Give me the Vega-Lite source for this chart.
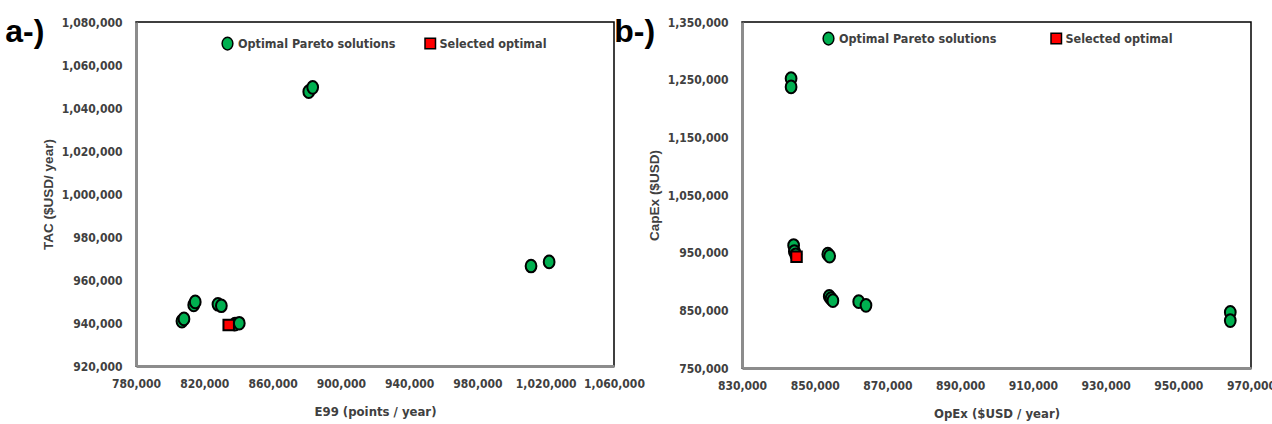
{
  "$schema": "https://vega.github.io/schema/vega-lite/v6.json",
  "background": "white",
  "padding": {"left": 4, "top": 15, "right": 0, "bottom": 0},
  "bounds": "flush",
  "spacing": 128,
  "config": {
    "view": {"stroke": "#000000", "strokeWidth": 1.5},
    "axis": {
      "grid": false,
      "ticks": false,
      "domainColor": "#8c8c8c",
      "domainWidth": 3,
      "labelFont": "DejaVu Sans Condensed, Roboto, sans-serif",
      "labelFontSize": 12,
      "labelFontWeight": "bold",
      "labelColor": "#404040",
      "labelOverlap": false,
      "labelFlush": false,
      "titleColor": "#404040"
    },
    "axisX": {"labelPadding": 12, "titlePadding": 16},
    "axisY": {"labelPadding": 14, "titlePadding": 6},
    "legend": {
      "labelFont": "DejaVu Sans Condensed, Roboto, sans-serif",
      "labelFontSize": 12.5,
      "labelFontWeight": "bold",
      "labelColor": "#404040",
      "labelLimit": 400,
      "symbolStrokeColor": "#000000",
      "symbolStrokeWidth": 1.5,
      "symbolSize": 70,
      "labelOffset": 3,
      "title": null
    },
    "title": {"font": "Liberation Sans", "fontSize": 32, "fontWeight": "bold", "color": "#000000", "anchor": "start", "frame": "bounds"}
  },
  "datasets": {
    "a": [
      {"E99": 806900, "TAC": 940900, "type": "Optimal Pareto solutions"},
      {"E99": 808100, "TAC": 941900, "type": "Optimal Pareto solutions"},
      {"E99": 813800, "TAC": 948400, "type": "Optimal Pareto solutions"},
      {"E99": 814700, "TAC": 949800, "type": "Optimal Pareto solutions"},
      {"E99": 828000, "TAC": 948700, "type": "Optimal Pareto solutions"},
      {"E99": 830000, "TAC": 948000, "type": "Optimal Pareto solutions"},
      {"E99": 838000, "TAC": 939500, "type": "Optimal Pareto solutions"},
      {"E99": 881200, "TAC": 1047600, "type": "Optimal Pareto solutions"},
      {"E99": 883500, "TAC": 1049600, "type": "Optimal Pareto solutions"},
      {"E99": 1011400, "TAC": 966500, "type": "Optimal Pareto solutions"},
      {"E99": 1022000, "TAC": 968400, "type": "Optimal Pareto solutions"},
      {"E99": 834300, "TAC": 939100, "type": "Selected optimal"},
      {"E99": 840500, "TAC": 939900, "type": "Optimal Pareto solutions"}
    ],
    "b": [
      {"OpEx": 843500, "CapEx": 1251900, "type": "Optimal Pareto solutions"},
      {"OpEx": 843500, "CapEx": 1237500, "type": "Optimal Pareto solutions"},
      {"OpEx": 844200, "CapEx": 962500, "type": "Optimal Pareto solutions"},
      {"OpEx": 844400, "CapEx": 952100, "type": "Optimal Pareto solutions"},
      {"OpEx": 844800, "CapEx": 946400, "type": "Optimal Pareto solutions"},
      {"OpEx": 853600, "CapEx": 947400, "type": "Optimal Pareto solutions"},
      {"OpEx": 854100, "CapEx": 944000, "type": "Optimal Pareto solutions"},
      {"OpEx": 854000, "CapEx": 874200, "type": "Optimal Pareto solutions"},
      {"OpEx": 854500, "CapEx": 870200, "type": "Optimal Pareto solutions"},
      {"OpEx": 855000, "CapEx": 866800, "type": "Optimal Pareto solutions"},
      {"OpEx": 862100, "CapEx": 865000, "type": "Optimal Pareto solutions"},
      {"OpEx": 864100, "CapEx": 858700, "type": "Optimal Pareto solutions"},
      {"OpEx": 964300, "CapEx": 846500, "type": "Optimal Pareto solutions"},
      {"OpEx": 964300, "CapEx": 832200, "type": "Optimal Pareto solutions"},
      {"OpEx": 845000, "CapEx": 942900, "type": "Selected optimal"}
    ]
  },
  "resolve": {"scale": {"color": "independent", "shape": "independent", "size": "independent"}, "legend": {"color": "independent", "shape": "independent"}},
  "hconcat": [
    {
      "width": 478,
      "height": 344,
      "title": {"text": "a-)", "dx": -36, "dy": 37},
      "data": {"name": "a"},
      "mark": {"type": "point", "filled": true, "stroke": "#000000", "strokeWidth": 2, "opacity": 1},
      "encoding": {
        "x": {"field": "E99", "type": "quantitative", "scale": {"domain": [780000, 1060000], "nice": false, "zero": false},
              "axis": {"values": [780000, 820000, 860000, 900000, 940000, 980000, 1020000, 1060000], "format": ",d", "title": "E99 (points / year)", "titleFont": "DejaVu Sans Condensed, Roboto, sans-serif", "titleFontSize": 13, "titleFontWeight": "bold"}},
        "y": {"field": "TAC", "type": "quantitative", "scale": {"domain": [920000, 1080000], "nice": false, "zero": false},
              "axis": {"values": [920000, 940000, 960000, 980000, 1000000, 1020000, 1040000, 1060000, 1080000], "format": ",d", "title": "TAC ($USD/ year)", "titleFont": "Liberation Sans", "titleFontSize": 13.5, "titleFontWeight": "bold"}},
        "color": {"field": "type", "type": "nominal", "scale": {"domain": ["Optimal Pareto solutions", "Selected optimal"], "range": ["#00B050", "#FF0000"]},
                  "legend": {"orient": "none", "direction": "horizontal", "legendX": 84, "legendY": 14, "columnPadding": 26}},
        "shape": {"field": "type", "type": "nominal", "scale": {"domain": ["Optimal Pareto solutions", "Selected optimal"], "range": ["M -0.85 0 A 0.85 1 0 1 0 0.85 0 A 0.85 1 0 1 0 -0.85 0 Z", "square"]}},
        "size": {"field": "type", "type": "nominal", "scale": {"domain": ["Optimal Pareto solutions", "Selected optimal"], "range": [160, 110]}, "legend": null}
      }
    },
    {
      "width": 509,
      "height": 346,
      "title": {"text": "b-)", "dx": -33, "dy": 37},
      "data": {"name": "b"},
      "mark": {"type": "point", "filled": true, "stroke": "#000000", "strokeWidth": 2, "opacity": 1},
      "encoding": {
        "x": {"field": "OpEx", "type": "quantitative", "scale": {"domain": [830000, 970000], "nice": false, "zero": false},
              "axis": {"values": [830000, 850000, 870000, 890000, 910000, 930000, 950000, 970000], "format": ",d", "title": "OpEx ($USD / year)", "titleFont": "DejaVu Sans Condensed, Roboto, sans-serif", "titleFontSize": 13, "titleFontWeight": "bold"}},
        "y": {"field": "CapEx", "type": "quantitative", "scale": {"domain": [750000, 1350000], "nice": false, "zero": false},
              "axis": {"values": [750000, 850000, 950000, 1050000, 1150000, 1250000, 1350000], "format": ",d", "title": "CapEx ($USD)", "titleFont": "Liberation Sans", "titleFontSize": 13.5, "titleFontWeight": "bold"}},
        "color": {"field": "type", "type": "nominal", "scale": {"domain": ["Optimal Pareto solutions", "Selected optimal"], "range": ["#00B050", "#FF0000"]},
                  "legend": {"orient": "none", "direction": "horizontal", "legendX": 79, "legendY": 9, "columnPadding": 51}},
        "shape": {"field": "type", "type": "nominal", "scale": {"domain": ["Optimal Pareto solutions", "Selected optimal"], "range": ["M -0.85 0 A 0.85 1 0 1 0 0.85 0 A 0.85 1 0 1 0 -0.85 0 Z", "square"]}},
        "size": {"field": "type", "type": "nominal", "scale": {"domain": ["Optimal Pareto solutions", "Selected optimal"], "range": [160, 110]}, "legend": null}
      }
    }
  ]
}
